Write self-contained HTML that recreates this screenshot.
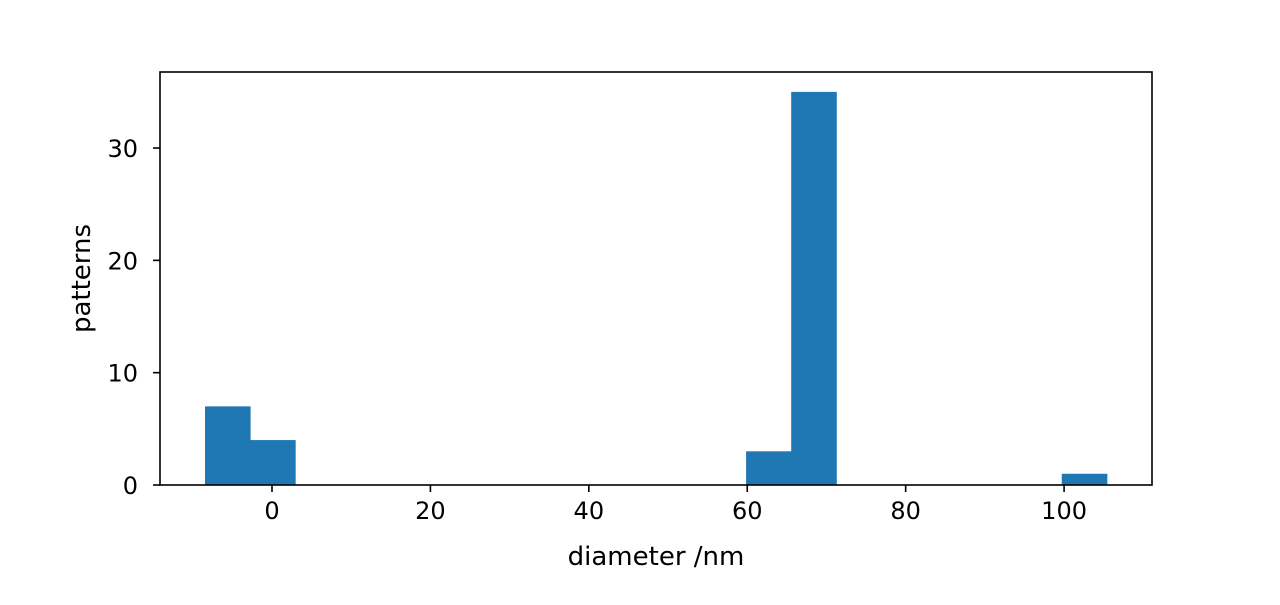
<!DOCTYPE html>
<html><head><meta charset="utf-8"><style>
body{margin:0;background:#fff;}
svg text{font-family:"DejaVu Sans","Liberation Sans",sans-serif;fill:#000;}
</style></head><body>
<svg id="chart" width="1280" height="600">
<rect x="0" y="0" width="1280" height="600" fill="#fff"/>
<g id="bars"></g>
<g id="axes"></g>
</svg>
<script>
const binStart = -8.46;
const binWidth = 5.693;
const counts = [7,4,0,0,0,0,0,0,0,0,0,0,3,35,0,0,0,0,0,1];
const xTicks = [0,20,40,60,80,100];
const yTicks = [0,10,20,30];
const xMin=-14.14, xMax=111.1, yMin=0, yMax=36.77;
const L=160,R=1152,T=72,B=485;
const sx=v=>L+(v-xMin)/(xMax-xMin)*(R-L);
const sy=v=>B-(v-yMin)/(yMax-yMin)*(B-T);
const NS="http://www.w3.org/2000/svg";
const bars=document.getElementById('bars'), axes=document.getElementById('axes');
function mk(tag,attrs,parent){const e=document.createElementNS(NS,tag);for(const k in attrs)e.setAttribute(k,attrs[k]);parent.appendChild(e);return e;}
counts.forEach((c,i)=>{
  if(c<=0)return;
  const x0=sx(binStart+i*binWidth), x1=sx(binStart+(i+1)*binWidth);
  const r=mk('rect',{x:x0,y:sy(c),width:x1-x0+0.5,height:sy(0)-sy(c),fill:'#1f77b4'},bars);
  
  
});
const frame=mk('rect',{x:L,y:T,width:R-L,height:B-T,fill:'none',stroke:'#000','stroke-width':1.6},axes);


xTicks.forEach(t=>{
  const x=sx(t);
  mk('line',{x1:x,x2:x,y1:B,y2:B+7,stroke:'#000','stroke-width':1.6},axes);
  const tx=mk('text',{x:x,y:B+34,'text-anchor':'middle','font-size':24},axes);
  tx.textContent=t;
  
  
});
yTicks.forEach(t=>{
  const y=sy(t);
  mk('line',{x1:L-7,x2:L,y1:y,y2:y,stroke:'#000','stroke-width':1.6},axes);
  const tx=mk('text',{x:L-22,y:y+9,'text-anchor':'end','font-size':24},axes);
  tx.textContent=t;
  
  
});
const xl=mk('text',{x:(L+R)/2,y:565,'text-anchor':'middle','font-size':26},axes);
xl.textContent='diameter /nm';


const yl=mk('text',{x:0,y:0,'text-anchor':'middle','font-size':26,transform:'translate(90,'+((T+B)/2)+') rotate(-90)'},axes);
yl.textContent='patterns';


</script>
</body></html>
